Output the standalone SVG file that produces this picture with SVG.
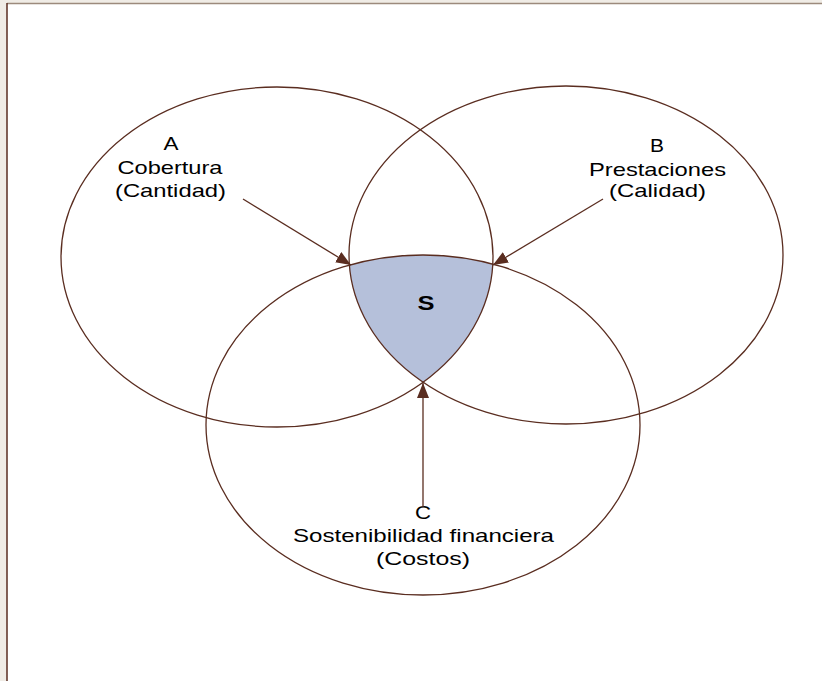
<svg xmlns="http://www.w3.org/2000/svg" width="822" height="681" viewBox="0 0 822 681">
<style>
.ring{fill:none;stroke:#5a2d20;stroke-width:1.3}
.con{stroke:#5a2d20;stroke-width:1.3;fill:none}
.lbl{font-family:"Liberation Sans",Arial,sans-serif;font-size:18.5px;fill:#000;text-anchor:middle}
.s{font-family:"Liberation Sans",Arial,sans-serif;font-size:21px;font-weight:bold;fill:#000;text-anchor:middle}
</style>
<defs>
<marker id="ah" markerUnits="userSpaceOnUse" markerWidth="16" markerHeight="12" refX="15" refY="6" orient="auto">
<path d="M0,0 L15,6 L0,12 Z" fill="#5a2d20"/>
</marker>
<clipPath id="clipA"><ellipse cx="277" cy="257" rx="216" ry="170"/></clipPath>
<clipPath id="clipB"><ellipse cx="566" cy="255" rx="217" ry="169"/></clipPath>
</defs>
<rect x="0" y="0" width="822" height="681" fill="#f0ece6"/>
<rect x="7" y="3" width="815" height="678" fill="#ffffff"/>
<line x1="7" y1="3.5" x2="822" y2="3.5" stroke="#9c8a7c" stroke-width="1.5"/>
<line x1="7" y1="3" x2="7" y2="681" stroke="#5a2d20" stroke-width="1.5"/>
<g id="S">
<g clip-path="url(#clipA)"><g clip-path="url(#clipB)"><ellipse cx="423" cy="425" rx="217" ry="170" fill="#b5c0da"/></g></g>
<text class="s" x="426" y="310" textLength="17" lengthAdjust="spacingAndGlyphs">S</text>
</g>
<g id="A">
<ellipse class="ring" cx="277" cy="257" rx="216" ry="170"/>
<text class="lbl" x="171" y="150" textLength="15" lengthAdjust="spacingAndGlyphs">A</text>
<text class="lbl" x="170" y="174" textLength="105" lengthAdjust="spacingAndGlyphs">Cobertura</text>
<text class="lbl" x="170.5" y="197" textLength="111" lengthAdjust="spacingAndGlyphs">(Cantidad)</text>
</g>
<g id="B">
<ellipse class="ring" cx="566" cy="255" rx="217" ry="169"/>
<text class="lbl" x="657" y="152" textLength="14" lengthAdjust="spacingAndGlyphs">B</text>
<text class="lbl" x="657.5" y="176" textLength="137" lengthAdjust="spacingAndGlyphs">Prestaciones</text>
<text class="lbl" x="657.5" y="197" textLength="97" lengthAdjust="spacingAndGlyphs">(Calidad)</text>
</g>
<g id="C">
<ellipse class="ring" cx="423" cy="425" rx="217" ry="170"/>
<text class="lbl" x="423" y="519" textLength="16" lengthAdjust="spacingAndGlyphs">C</text>
<text class="lbl" x="423.5" y="542" textLength="261" lengthAdjust="spacingAndGlyphs">Sostenibilidad financiera</text>
<text class="lbl" x="423" y="565" textLength="94" lengthAdjust="spacingAndGlyphs">(Costos)</text>
</g>
<g id="connectors">
<line class="con" x1="243" y1="199" x2="351" y2="265" marker-end="url(#ah)"/>
<line class="con" x1="603" y1="199" x2="493" y2="265" marker-end="url(#ah)"/>
<line class="con" x1="423" y1="507" x2="423" y2="383" marker-end="url(#ah)"/>
</g>
</svg>
